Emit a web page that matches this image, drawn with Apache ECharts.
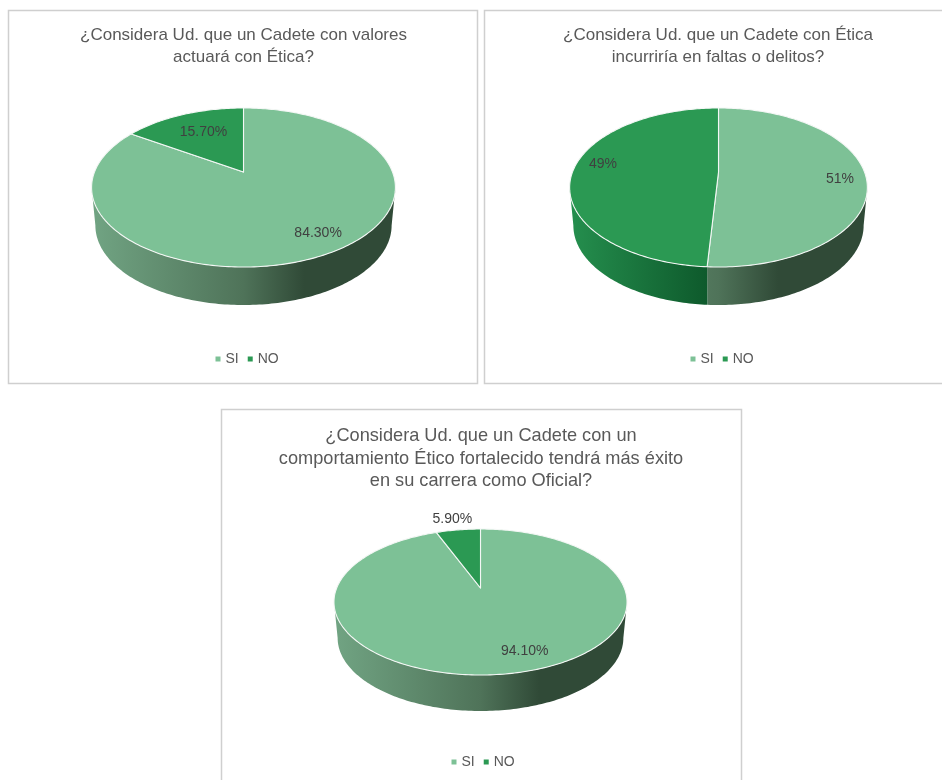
<!DOCTYPE html>
<html>
<head>
<meta charset="utf-8">
<script src="https://cdn.jsdelivr.net/npm/echarts@6/dist/echarts.min.js"></script>
<style>html,body{margin:0;padding:0;background:#fff}#c{width:942px;height:780px}</style>
</head>
<body>
<div id="c"></div>
<script>
// ---- data ----
const categories = ['SI', 'NO'];
const titles = [
  '¿Considera Ud. que un Cadete con valores\nactuará con Ética?',
  '¿Considera Ud. que un Cadete con Ética\nincurriría en faltas o delitos?',
  '¿Considera Ud. que un Cadete con un\ncomportamiento Ético fortalecido tendrá más éxito\nen su carrera como Oficial?'
];
const valuesChart1 = [84.3, 15.7];
const valuesChart2 = [51, 49];
const valuesChart3 = [94.1, 5.9];
const labelsChart1 = ['84.30%', '15.70%'];
const labelsChart2 = ['51%', '49%'];
const labelsChart3 = ['94.10%', '5.90%'];

// ---- layout only ----
const panels = [
  {x:8.5,y:10.5,w:469,h:373,cx:243.5,apexY:172,R:149,S:76.5,k:.195,depth:38,titleX:243.5,titleY:24,titleSize:17,legendX:215.5,legendY:352,
   labelR:[.807,.67],labelShift:[-4.3,1.7]},
  {x:484.5,y:10.5,w:500,h:373,cx:718.5,apexY:172,R:146,S:76.5,k:.195,depth:38,titleX:718,titleY:24,titleSize:17,legendX:690.5,legendY:352,
   labelR:[.823,.819],labelShift:[3.6,6.6]},
  {x:221.5,y:409.5,w:520,h:420,cx:480.5,apexY:588,R:143.8,S:70.3,k:.192,depth:36,titleX:481,titleY:425,titleSize:18.2,legendX:451.5,legendY:755,
   labelR:[.798,1.254],labelShift:[-8.6,-.5]}
];
const allValues = [valuesChart1, valuesChart2, valuesChart3];
const allLabels = [labelsChart1, labelsChart2, labelsChart3];
const topColors = ['#7DC196', '#2B9953'];
const FONT = '"Liberation Sans", Arial, sans-serif';

function rim(p, deg, r, scale, drop) {
  const t = deg * Math.PI / 180, u = Math.sin(t) * r, v = Math.cos(t) * r, w = 1 + p.k * v;
  return [p.cx + (scale || 1) * p.R * u / w, p.apexY - p.S * v / w + (drop || 0)];
}
function arc(p, a, b, scale, drop) {
  const pts = [], n = Math.max(1, Math.ceil(Math.abs(b - a)));
  for (let i = 0; i <= n; i++) pts.push(rim(p, a + (b - a) * i / n, 1, scale, drop));
  return pts;
}
function wallFill(p, ci) {
  const half = p.R / Math.sqrt(1 - p.k * p.k), L = p.cx - half, Rr = p.cx + half;
  const stops = ci === 0
    ? [{offset:0,color:'#71A483'},{offset:.5,color:'#4F7359'},{offset:.7,color:'#304A37'},{offset:1,color:'#304A37'}]
    : [{offset:0,color:'#258F4E'},{offset:.46,color:'#0E5A2C'},{offset:1,color:'#0E5A2C'}];
  return new echarts.graphic.LinearGradient(L, 0, Rr, 0, stops, true);
}
function renderer(pi, ci) {
  const p = panels[pi], vals = allValues[pi];
  const total = vals.reduce((a, b) => a + b, 0);
  return function (params, api) {
    const value = api.value(0);
    const before = vals.slice(0, ci).reduce((a, b) => a + b, 0);
    const a = before / total * 360, b = a + value / total * 360;
    const kids = [];
    // side wall: only the front part of the rim is visible
    const sil = 90 + Math.asin(p.k) * 180 / Math.PI;
    const wa = Math.max(a, sil), wb = Math.min(b, 360 - sil);
    if (wb > wa) {
      const topEdge = arc(p, wa, wb);
      const botEdge = arc(p, wb, wa, .975, p.depth);
      kids.push({type:'polygon', shape:{points: topEdge.concat(botEdge)},
        style:{fill: wallFill(p, ci), stroke:null}});
      [a, b].forEach(function (e) {
        if (e > sil && e < 360 - sil) {
          kids.push({type:'polyline', shape:{points:[rim(p, e), rim(p, e, 1, .975, p.depth)]},
            style:{stroke:'#F2F5F3', lineWidth:1.2, fill:null}});
        }
      });
    }
    // top face
    kids.push({type:'polygon', shape:{points: [rim(p, 0, 0)].concat(arc(p, a, b))},
      style:{fill: topColors[ci], stroke:'#F4F7F5', lineWidth:1.1, lineJoin:'round'}});
    // data label
    const mid = (a + b) / 2 + p.labelShift[ci];
    const lp = rim(p, mid, p.labelR[ci]);
    kids.push({type:'text', style:{text: allLabels[pi][ci], x: lp[0], y: lp[1] + 1,
      textAlign:'center', textVerticalAlign:'middle', align:'center', verticalAlign:'middle',
      fill:'#404040', font:'14px ' + FONT}});
    return {type:'group', children: kids};
  };
}

const series = [];
panels.forEach(function (p, pi) {
  categories.forEach(function (name, ci) {
    series.push({
      type:'custom', name: name, coordinateSystem:'none', silent:true,
      itemStyle:{color: topColors[ci]},
      data:[[allValues[pi][ci]]],
      renderItem: renderer(pi, ci)
    });
  });
});

const chart = echarts.init(document.getElementById('c'), null, {renderer:'canvas'});
chart.setOption({
  animation:false,
  backgroundColor:'#fff',
  title: panels.map(function (p, i) {
    return {text: titles[i], left: p.titleX, top: p.titleY, textAlign:'center', padding:0,
      textStyle:{color:'#595959', fontSize:p.titleSize, fontWeight:'normal', lineHeight:22.5, fontFamily:FONT}};
  }),
  legend: panels.map(function (p) {
    return {data: categories, left: p.legendX, top: p.legendY, padding:0, orient:'horizontal',
      icon:'rect', itemWidth:5, itemHeight:5, itemGap:9, selectedMode:false,
      textStyle:{color:'#595959', fontSize:14, fontFamily:FONT}};
  }),
  graphic: panels.map(function (p) {
    return {type:'rect', z:-1, silent:true, shape:{x:p.x,y:p.y,width:p.w,height:p.h},
      style:{fill:'#fff', stroke:'#CFCFCF', lineWidth:1.5}};
  }),
  series: series
});
</script>
</body>
</html>
